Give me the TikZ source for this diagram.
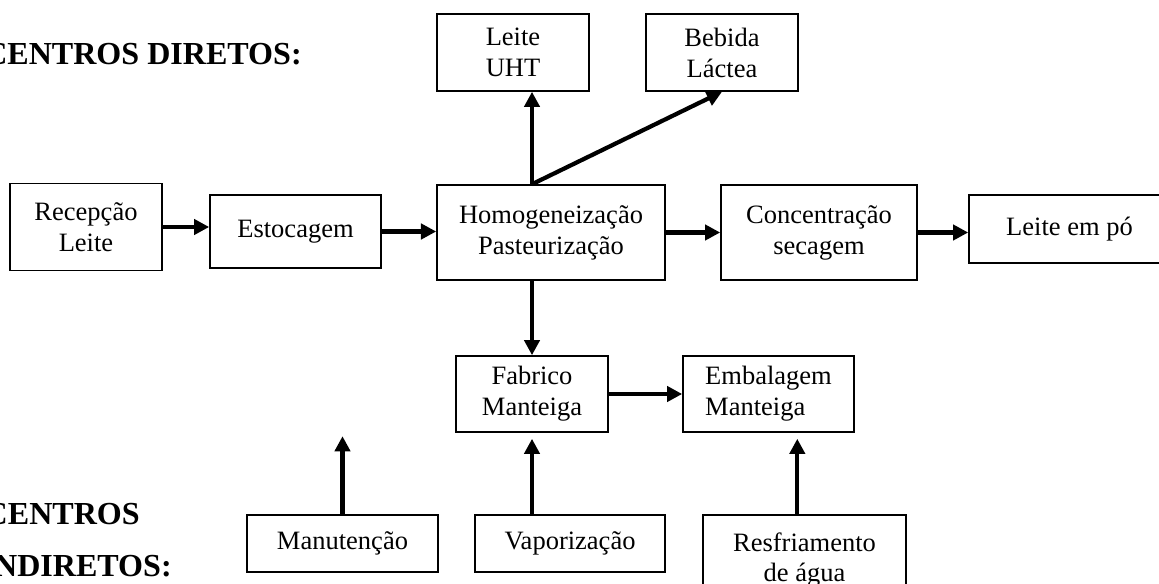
\documentclass[tikz,border=0pt]{standalone}
\usepackage{fontspec}
\setmainfont{Liberation Serif}
\usetikzlibrary{arrows.meta,positioning,calc}

\begin{document}
\begin{tikzpicture}[
  x=0.025cm, y=-0.025cm,
  font=\fontsize{18.85}{22}\selectfont,
  block/.style={rectangle, draw, line width=1.1pt, align=center, inner sep=2pt},
  head/.style={font=\fontsize{22.8}{26}\selectfont\bfseries, inner sep=0pt},
  arr/.style={-{Triangle[length=3.8mm,width=3.8mm]}, line width=3pt},
  feed/.style={arr, shorten >=1.5mm}
]
  \useasboundingbox (0,0) rectangle (1159,584);
  % centros diretos
  \node[head, anchor=base east] (dir) at (302,65) {CENTROS DIRETOS:};
  \node[block, minimum width=3.8cm, minimum height=2.175cm] (rec) at (86,227) {Recepção\\ Leite};
  \node[block, minimum width=4.275cm, minimum height=1.825cm] (est) at (295.5,231.5) {Estocagem};
  \node[block, minimum width=5.7cm, minimum height=2.375cm] (hom) at (551,232.5) {Homogeneização\\ Pasteurização};
  \node[block, minimum width=4.9cm, minimum height=2.375cm] (con) at (819,232.5) {Concentração\\ secagem};
  \node[block, minimum width=5.025cm, minimum height=1.7cm] (lep) at (1069.5,229) {Leite em pó};
  \node[block, minimum width=3.8cm, minimum height=1.925cm] (uht) at (513,52.5) {Leite\\ UHT};
  \node[block, minimum width=3.8cm, minimum height=1.925cm] (beb) at (722,52.5) {Bebida\\ Láctea};
  \node[block, minimum width=3.8cm, minimum height=1.9cm] (fab) at (532,394) {Fabrico\\ Manteiga};
  \node[block, minimum width=4.275cm, minimum height=1.9cm, align=left] (emb) at (768.5,394) {Embalagem\\ Manteiga};
  % centros indiretos
  \node[head, anchor=base east] (cen) at (140,524) {CENTROS};
  \node[head, anchor=base east] (ind) at (172,576) {INDIRETOS:};
  \node[block, minimum width=4.775cm, minimum height=1.425cm] (man) at (342.5,543.5) {Manutenção};
  \node[block, minimum width=4.75cm, minimum height=1.425cm] (vap) at (570,543.5) {Vaporização};
  \node[block, minimum width=5.075cm, minimum height=2.25cm] (res) at (804.5,560) {Resfriamento\\ de água};

  \coordinate (hub) at (hom.north -| fab.north);
  \coordinate[above=1.95cm of man.north] (manup);

  \draw[arr] (rec.east) -- (rec.east -| est.west);
  \draw[arr] (est.east) -- (est.east -| hom.west);
  \draw[arr] (hom) -- (con);
  \draw[arr] (con.east) -- (con.east -| lep.west);
  \draw[arr] (hub) -- (hub |- uht.south);
  \draw[arr] (hub) -- (beb.south);
  \draw[arr] (hub |- hom.south) -- (fab.north);
  \draw[arr] (fab) -- (emb);
  \draw[arr] (man.north) -- (manup);
  \draw[feed] (vap.north -| fab.south) -- (fab.south);
  \draw[feed] ([xshift=-0.18cm]res.north) -- ([xshift=-0.18cm]res.north |- emb.south);
\end{tikzpicture}
\end{document}
